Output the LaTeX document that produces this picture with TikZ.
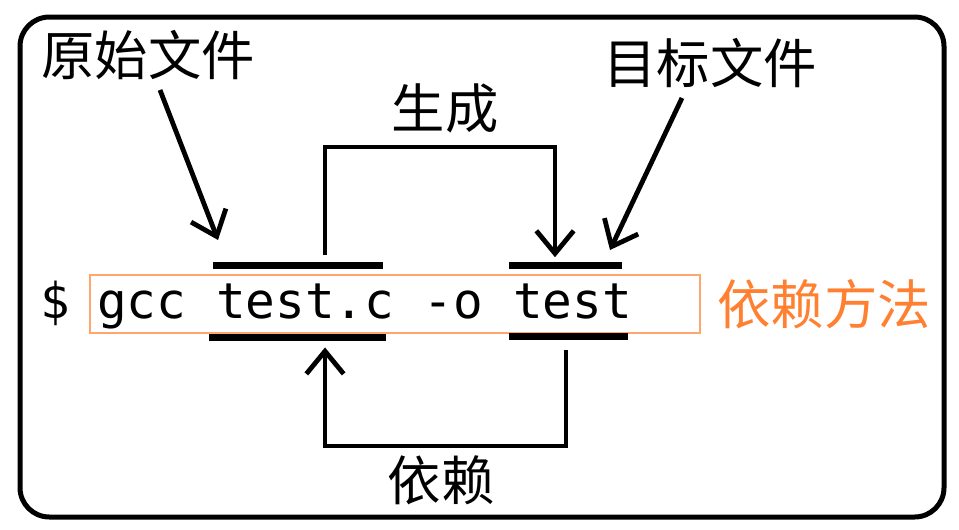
\documentclass[tikz,border=0pt]{standalone}
\usepackage{fontspec}
\setmonofont{DejaVu Sans Mono}
\newfontfamily\cjk{Noto Sans CJK SC}
\usetikzlibrary{arrows.meta}
\definecolor{orangeT}{RGB}{255,128,48}
\definecolor{orangeB}{RGB}{255,165,110}
\begin{document}
\begin{tikzpicture}[x=0.75pt,y=-0.75pt,
  lbl/.style={font=\cjk\fontsize{40}{44}\selectfont, inner sep=0pt},
  cmd/.style={font=\ttfamily\fontsize{37}{40}\selectfont, inner sep=0pt},
  barnode/.style={fill=black, inner sep=0pt, minimum height=5.25pt},
  conn/.style={line width=3.6pt},
  tip/.style={-{Straight Barb[length=17pt,width=28pt]}}]
\useasboundingbox (0,0) rectangle (959,529);
% outer frame
\draw[line width=3.75pt, rounded corners=22pt] (20,17) rectangle (944,517);
% labels
\node[lbl] (src) at (148,55) {原始文件};
\node[lbl] (tgt) at (710,63) {目标文件};
\node[lbl] (gen) at (445,108) {生成};
\node[lbl] (dep) at (441,480) {依赖};
\node[lbl, text=orangeT] (meth) at (824,304) {依赖方法};
% command line
\node[draw=orangeB, line width=1.6pt, minimum width=457.5pt, minimum height=43.5pt, inner sep=0pt] (box) at (395,304) {};
\node[cmd, anchor=base] (dollar) at (55,318) {\$};
\node[cmd, anchor=base west] (line) at (97,318) {gcc test.c -o test};
% bars
\node[barnode, minimum width=127.5pt] (srcTop) at (298,265) {};
\node[barnode, minimum width=133pt] (srcBot) at (297.5,337) {};
\node[barnode, minimum width=85pt] (tgtTop) at (565.5,265) {};
\node[barnode, minimum width=89pt] (tgtBot) at (568.5,336) {};
% generation connector
\coordinate (g1) at (325,147);
\coordinate (g2) at (555,147);
\draw[conn, tip] ([yshift=5pt]srcTop.north -| g1) -- (g1) -- (g2) -- ([yshift=3pt]tgtTop.north -| g2);
% dependency connector
\coordinate (d1) at (566,446);
\coordinate (d2) at (325,446);
\draw[conn, tip] ([yshift=-8pt]tgtBot.south -| d1) -- (d1) -- (d2) -- ([yshift=-5pt]srcBot.south -| d2);
% diagonal arrows
\coordinate (srcTip) at (218,240);
\coordinate (tgtTip) at (610,250);
\draw[conn, tip] ([shift={(12,10)}]src.south) -- (srcTip);
\draw[conn, tip] ([shift={(-28,10)}]tgt.south) -- (tgtTip);
\end{tikzpicture}
\end{document}
